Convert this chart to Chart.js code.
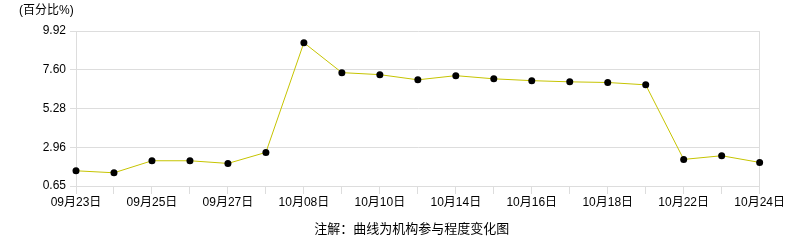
<!DOCTYPE html>
<html>
<head>
<meta charset="utf-8">
<script src="https://cdn.jsdelivr.net/npm/chart.js@4/dist/chart.umd.min.js"></script>
<style>
  html, body { margin: 0; padding: 0; background: #fff; }
  #wrap { width: 786px; height: 240px; }
</style>
</head>
<body>
<div id="wrap"><canvas id="chart" width="786" height="240"></canvas></div>
<script>
const dates = ['09月23日', '09月24日', '09月25日', '09月26日', '09月27日', '09月30日',
    '10月08日', '10月09日', '10月10日', '10月11日', '10月14日', '10月15日',
    '10月16日', '10月17日', '10月18日', '10月21日', '10月22日', '10月23日', '10月24日'];
const participation = [1.56, 1.44, 2.16, 2.16, 2.00, 2.66,
    9.22, 7.43, 7.31, 7.00, 7.25, 7.06,
    6.95, 6.88, 6.84, 6.70, 2.24, 2.46, 2.06];
const yTicks = [0.65, 2.96, 5.28, 7.60, 9.92];
const unitLabel = '(百分比%)';
const caption = '注解：曲线为机构参与程度变化图';

const FONT = '"Liberation Sans", "Noto Sans CJK SC", sans-serif';
const gridGray = '#dddddd';

// unit label top-left and caption under the chart
const notes = {
    id: 'notes',
    afterDraw(chart) {
        const ctx = chart.ctx;
        const area = chart.chartArea;
        ctx.save();
        ctx.fillStyle = '#000';
        ctx.textBaseline = 'middle';
        ctx.font = '12px ' + FONT;
        ctx.textAlign = 'left';
        ctx.fillText(unitLabel, 19, 11);
        ctx.font = '13px ' + FONT;
        ctx.textAlign = 'center';
        ctx.fillText(caption, (area.left + area.right) / 2 - 6, 229);
        ctx.restore();
    }
};

new Chart(document.getElementById('chart').getContext('2d'), {
    type: 'line',
    data: {
        labels: dates,
        datasets: [{
            data: participation,
            borderColor: '#c6c400',
            borderWidth: 1,
            pointRadius: 3.5,
            pointBackgroundColor: '#000',
            pointBorderColor: '#000',
            pointBorderWidth: 0,
            tension: 0
        }]
    },
    options: {
        responsive: false,
        animation: false,
        layout: { padding: { top: 31, right: 26, bottom: 0, left: 0 } },
        plugins: {
            legend: { display: false },
            tooltip: { enabled: false }
        },
        scales: {
            x: {
                offset: false,
                afterFit: s => { s.height = 54; },
                border: { color: gridGray },
                grid: {
                    drawOnChartArea: true,
                    color: c => c.index === dates.length - 1 ? gridGray : 'rgba(0,0,0,0)',
                    tickColor: gridGray,
                    tickLength: 8
                },
                ticks: {
                    autoSkip: false,
                    maxRotation: 0,
                    padding: 1,
                    color: '#000',
                    font: { family: FONT, size: 12 },
                    callback: (v, i) => i % 2 === 0 ? dates[i] : ''
                }
            },
            y: {
                min: yTicks[0],
                max: yTicks[yTicks.length - 1],
                afterFit: s => { s.width = 76; },
                afterBuildTicks: s => { s.ticks = yTicks.map(v => ({ value: v })); },
                border: { color: gridGray },
                grid: { color: gridGray, tickColor: gridGray, tickLength: 6 },
                ticks: {
                    padding: 4,
                    color: '#000',
                    font: { family: FONT, size: 12 },
                    callback: v => Number(v).toFixed(2)
                }
            }
        }
    },
    plugins: [notes]
});
</script>
</body>
</html>
